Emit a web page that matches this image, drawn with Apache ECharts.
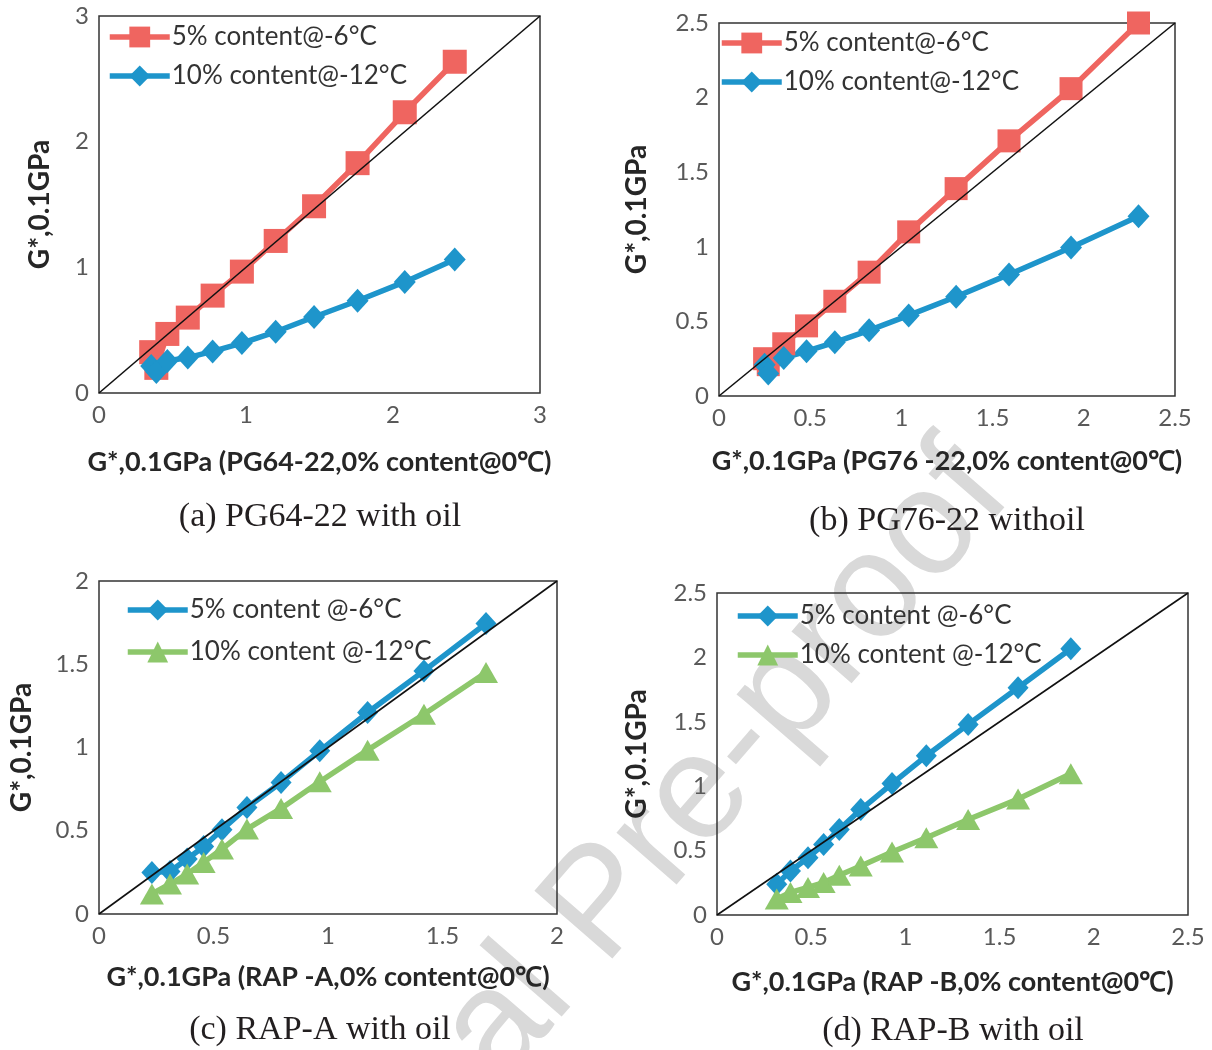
<!DOCTYPE html>
<html>
<head>
<meta charset="utf-8">
<script src="https://cdn.jsdelivr.net/npm/echarts@6/dist/echarts.min.js"></script>
<style>
  html, body { margin: 0; padding: 0; background: #fff; }
  #chart { width: 1212px; height: 1050px; }
</style>
</head>
<body>
<div id="chart"></div>
<script>
// (a) PG64-22 with oil
const xA = [0.355, 0.39, 0.465, 0.604, 0.773, 0.972, 1.202, 1.463, 1.759, 2.08, 2.42]
const redA = [0.325, 0.2, 0.47, 0.6, 0.775, 0.966, 1.21, 1.486, 1.829, 2.234, 2.636]
const blueA = [0.214, 0.167, 0.255, 0.282, 0.331, 0.397, 0.487, 0.605, 0.734, 0.884, 1.062]

// (b) PG76-22 withoil
const xB = [0.25, 0.27, 0.355, 0.48, 0.635, 0.823, 1.04, 1.3, 1.59, 1.93, 2.3]
const redB = [0.25, 0.21, 0.35, 0.47, 0.635, 0.83, 1.1, 1.39, 1.71, 2.06, 2.5]
const blueB = [0.21, 0.15, 0.255, 0.3, 0.36, 0.44, 0.54, 0.665, 0.815, 0.995, 1.205]

// (c) RAP-A with oil
const xC = [0.231, 0.31, 0.385, 0.457, 0.537, 0.646, 0.795, 0.964, 1.173, 1.419, 1.69]
const blueC = [0.25, 0.255, 0.33, 0.405, 0.506, 0.64, 0.79, 0.98, 1.21, 1.46, 1.745]
const greenC = [0.12, 0.18, 0.24, 0.31, 0.39, 0.51, 0.634, 0.794, 0.984, 1.2, 1.45]

// (d) RAP-B with oil
const xD = [0.317, 0.39, 0.483, 0.566, 0.649, 0.763, 0.929, 1.111, 1.333, 1.598, 1.878]
const blueD = [0.239, 0.342, 0.445, 0.548, 0.664, 0.819, 1.02, 1.236, 1.48, 1.764, 2.067]
const greenD = [0.124, 0.175, 0.214, 0.252, 0.309, 0.381, 0.489, 0.6, 0.742, 0.9, 1.097]

// axis ranges (min, max, interval), also used for the 1:1 lines
const axisA = [0, 3, 1]
const axisB = [0, 2.5, 0.5]
const axisC = [0, 2, 0.5]
const axisD = [0, 2.5, 0.5]

const legendAB = ['5% content@-6°C', '10% content@-12°C']
const legendCD = ['5% content @-6°C', '10% content @-12°C']
const xNames = [
    'G*,0.1GPa (PG64-22,0% content@0℃)',
    'G*,0.1GPa (PG76 -22,0% content@0℃)',
    'G*,0.1GPa (RAP -A,0% content@0℃)',
    'G*,0.1GPa (RAP -B,0% content@0℃)'
]
const yName = 'G*,0.1GPa'
const captions = ['(a) PG64-22 with oil', '(b) PG76-22 withoil', '(c) RAP-A with oil', '(d) RAP-B with oil']

const RED = '#EF6560'
const BLUE = '#1E95CB'
const GREEN = '#8DC76B'
const FONT = 'Lato'

const zip = (xs, ys) => xs.map((x, i) => [x, ys[i]])

// layout of the four panels
const grids = [
    { left: 99, top: 16, width: 441, height: 377 },
    { left: 719, top: 23, width: 456, height: 373 },
    { left: 99, top: 581, width: 458, height: 333 },
    { left: 717, top: 593, width: 471, height: 322 }
]
const xGaps = [56, 52, 50, 54]
const yGaps = [45, 68, 63, 66]
const axes = [axisA, axisB, axisC, axisD]

const chart = echarts.init(document.getElementById('chart'))

const xNameStyle = { fontFamily: FONT, fontWeight: 'bold', fontSize: 27, color: '#262626' }
const yNameStyle = { fontFamily: FONT, fontWeight: 'bold', fontSize: 28, color: '#262626' }
const tickStyle = { fontFamily: FONT, fontSize: 24, color: '#595959', margin: 10 }

const xAxis = axes.map((a, i) => ({
    gridIndex: i,
    type: 'value',
    min: a[0], max: a[1], interval: a[2],
    name: xNames[i],
    nameLocation: 'middle',
    nameGap: xGaps[i],
    nameTextStyle: xNameStyle,
    axisLine: { show: false },
    axisTick: { show: false },
    splitLine: { show: false },
    axisLabel: tickStyle
}))
const yAxis = axes.map((a, i) => ({
    gridIndex: i,
    type: 'value',
    min: a[0], max: a[1], interval: a[2],
    name: yName,
    nameLocation: 'middle',
    nameRotate: 90,
    nameGap: yGaps[i],
    nameTextStyle: yNameStyle,
    axisLine: { show: false },
    axisTick: { show: false },
    splitLine: { show: false },
    axisLabel: tickStyle
}))

function dataSeries(name, idx, data, color, symbol, size) {
    return {
        name: name,
        type: 'line',
        xAxisIndex: idx,
        yAxisIndex: idx,
        data: data,
        symbol: symbol,
        symbolSize: size,
        color: color,
        lineStyle: { width: 5.5, color: color },
        itemStyle: { color: color },
        z: 2
    }
}
function diagonal(idx) {
    const lo = axes[idx][0], hi = axes[idx][1]
    return {
        type: 'line',
        xAxisIndex: idx,
        yAxisIndex: idx,
        data: [[lo, lo], [hi, hi]],
        symbol: 'none',
        silent: true,
        lineStyle: { width: 1.6, color: '#111' },
        z: 5
    }
}

const series = [
    dataSeries(legendAB[0], 0, zip(xA, redA), RED, 'rect', 24),
    dataSeries(legendAB[1], 0, zip(xA, blueA), BLUE, 'diamond', [22, 24]),
    diagonal(0),
    dataSeries(legendAB[0], 1, zip(xB, redB), RED, 'rect', 23),
    dataSeries(legendAB[1], 1, zip(xB, blueB), BLUE, 'diamond', [22, 24]),
    diagonal(1),
    dataSeries(legendCD[0], 2, zip(xC, blueC), BLUE, 'diamond', [21, 23]),
    dataSeries(legendCD[1], 2, zip(xC, greenC), GREEN, 'triangle', [24, 21]),
    diagonal(2),
    dataSeries(legendCD[0], 3, zip(xD, blueD), BLUE, 'diamond', [21, 23]),
    dataSeries(legendCD[1], 3, zip(xD, greenD), GREEN, 'triangle', [24, 21]),
    diagonal(3)
]

const legendBase = {
    orient: 'vertical',
    itemWidth: 60,
    itemHeight: 26,
    itemGap: 13,
    padding: 0,
    lineStyle: { width: 5.5 },
    textStyle: { fontFamily: FONT, fontSize: 26, color: '#333', padding: [0, 0, 0, -3] }
}
const legend = [
    Object.assign({}, legendBase, { data: legendAB, left: 107, top: 24 }),
    Object.assign({}, legendBase, { data: legendAB, left: 719, top: 30 }),
    Object.assign({}, legendBase, { data: legendCD, left: 125, top: 597, itemGap: 16 }),
    Object.assign({}, legendBase, { data: legendCD, left: 735, top: 603 })
]

const captionPos = [[320, 517], [947, 521], [320, 1030], [953, 1031]]
const graphic = captionPos.map((p, i) => ({
    type: 'text',
    x: p[0], y: p[1],
    style: {
        text: captions[i],
        fontFamily: 'Liberation Serif',
        fontSize: 34,
        fill: '#231f20',
        align: 'center',
        verticalAlign: 'middle'
    }
}))
// watermark
graphic.push({
    type: 'text',
    x: 603, y: 906,
    rotation: 49 * Math.PI / 180,
    z: -10,
    style: {
        text: 'Journal Pre-proof',
        fontFamily: 'Liberation Sans',
        fontSize: 150,
        fill: '#d9d9d9',
        align: 'center',
        verticalAlign: 'middle'
    }
})

chart.setOption({
    animation: false,
    backgroundColor: '#fff',
    grid: grids.map(g => Object.assign({ show: true, borderColor: '#333', borderWidth: 1.5 }, g)),
    xAxis: xAxis,
    yAxis: yAxis,
    legend: legend,
    graphic: graphic,
    series: series
})
</script>
</body>
</html>
